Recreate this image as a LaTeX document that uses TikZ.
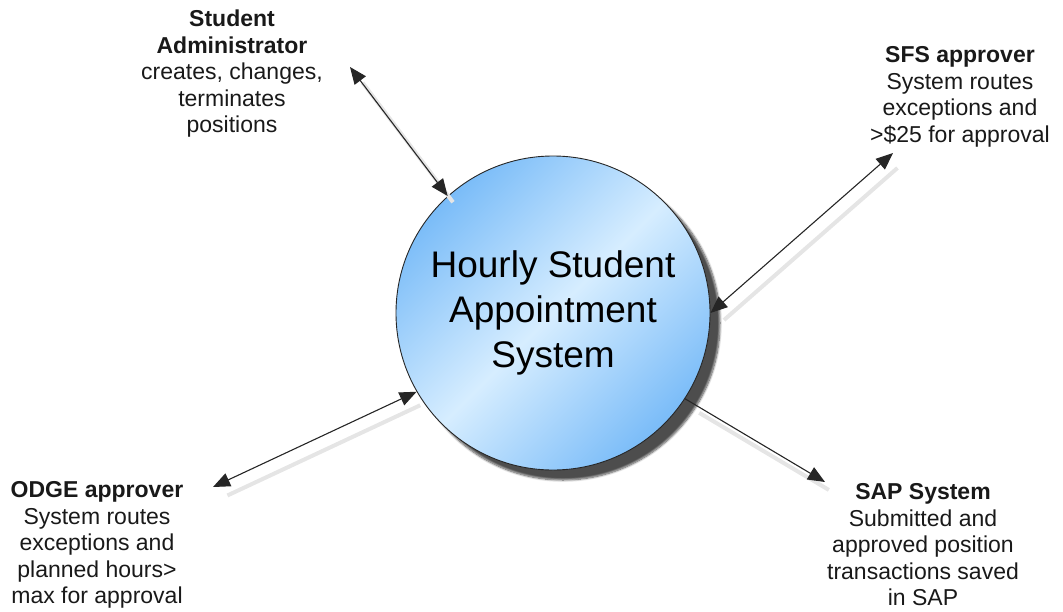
\documentclass[tikz,border=0pt]{standalone}
\usepackage{fontspec}
\setmainfont{Liberation Sans}
\usetikzlibrary{arrows.meta,shadows.blur}
\definecolor{hubblue}{RGB}{122,188,248}
\definecolor{hublight}{RGB}{214,237,255}

\begin{document}
\begin{tikzpicture}[x=1pt,y=-1pt,
        hub/.style={circle,draw=black!85,line width=0.9pt,minimum size=314pt,inner sep=0pt,
            top color=hubblue,bottom color=hubblue,middle color=hublight,shading angle=45,
            blur shadow={shadow xshift=10pt,shadow yshift=-10pt,shadow blur steps=8,shadow opacity=70},
            font=\fontsize{37}{45}\selectfont,align=center},
        actor/.style={align=center,text=black!90,font=\fontsize{23}{26.5}\selectfont},
        link/.style={line width=1.1pt,draw=black!85},
        oneway/.style={-{Triangle[length=17pt,width=14pt]}},
        twoway/.style={{Triangle[length=17pt,width=14pt]}-{Triangle[length=17pt,width=14pt]}},
        ghost/.style={preaction={-,draw=black!10,line width=4pt,shorten >=6pt,shorten <=6pt,
            transform canvas={shift={(9,11)}}}}
    ]
    \useasboundingbox (0,0) rectangle (1063,611);
    % centre
    \node[hub] (hsas) at (553,313) {Hourly Student\\Appointment\\System};
    % the four parties
    \node[actor] (admin) at (232,74) {\textbf{Student}\\\textbf{Administrator}\\creates, changes,\\terminates\\positions};
    \node[actor] (sfs) at (960,97) {\textbf{SFS approver}\\System routes\\exceptions and\\>\$25 for approval};
    \node[actor] (odge) at (97,545) {\textbf{ODGE approver}\\System routes\\exceptions and\\planned hours>\\max for approval};
    \node[actor] (sap) at (923,545) {\textbf{SAP System}\\Submitted and\\approved position\\transactions saved\\in SAP};
    \coordinate (admintip) at (350,67);
    \coordinate (sfstip) at (893,153);
    \coordinate (odgetip) at (213,487);
    \coordinate (saptip) at (825,482);
    % links
    \draw[link,twoway,ghost] (admintip) -- (hsas.132);
    \draw[link,twoway,ghost] (sfstip) -- (hsas.0);
    \draw[link,twoway,ghost] (odgetip) -- (hsas.210);
    \draw[link,oneway,ghost] (hsas.-33) -- (saptip);
\end{tikzpicture}
\end{document}
